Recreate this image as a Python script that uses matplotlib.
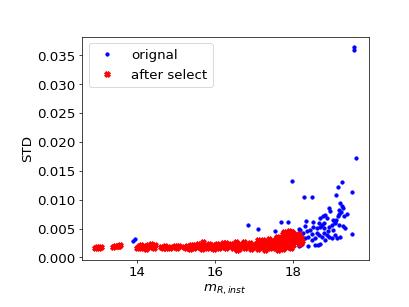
import numpy as np
import matplotlib
matplotlib.use("Agg")
import matplotlib.pyplot as plt

# points kept after the selection (mag, std)
red_m = [12.93, 12.97, 13.03, 13.08, 13.40, 13.45, 13.52, 13.57, 13.55,
         14.00, 14.05, 14.10, 14.14, 14.18, 14.22, 14.27, 14.30, 14.34, 14.37, 14.40, 14.44, 14.47, 14.12, 14.25,
         14.62, 14.68, 14.72, 14.80, 14.86, 14.92, 14.98, 15.03, 15.08, 14.76,
         15.22, 15.26, 15.30, 15.34, 15.38, 15.42, 15.46, 15.50, 15.54, 15.58, 15.62, 15.66, 15.70, 15.73, 15.76,
         15.80, 15.84, 15.88, 15.92, 15.96, 15.99, 15.68, 15.36,
         16.03, 16.07, 16.10, 16.14, 16.18, 16.22, 16.26, 16.30, 16.34, 16.38, 16.42, 16.46, 16.50, 16.54, 16.58,
         16.62, 16.66, 16.70, 16.74, 16.78, 16.82, 16.86, 16.90, 16.94, 16.98, 16.56, 16.30,
         17.02, 17.05, 17.08, 17.11, 17.14, 17.17, 17.20, 17.23, 17.26, 17.29, 17.32, 17.35, 17.38, 17.41, 17.44,
         17.47, 17.49, 17.30, 17.12, 17.40,
         17.52, 17.54, 17.56, 17.58, 17.60, 17.62, 17.64, 17.66, 17.68, 17.70, 17.72, 17.74, 17.76, 17.78, 17.60, 17.70,
         17.80, 17.82, 17.84, 17.86, 17.88, 17.90, 17.92, 17.94, 17.96, 17.98, 18.00, 18.02, 18.04, 17.85, 17.95,
         17.90, 17.82, 17.75, 17.78,
         18.08, 18.10, 18.13, 18.16, 18.18, 18.20, 18.23, 18.12]
red_std = [0.0016, 0.0018, 0.0017, 0.0018, 0.0018, 0.0020, 0.0019, 0.0022, 0.0020,
           0.0017, 0.0019, 0.0016, 0.0018, 0.0020, 0.0017, 0.0019, 0.0022, 0.0018, 0.0024, 0.0020, 0.0017, 0.0021, 0.0021, 0.0015,
           0.0018, 0.0017, 0.0019, 0.0018, 0.0016, 0.0018, 0.0020, 0.0017, 0.0019, 0.0016,
           0.0018, 0.0016, 0.0020, 0.0017, 0.0022, 0.0019, 0.0016, 0.0021, 0.0018, 0.0024, 0.0020, 0.0017, 0.0026, 0.0022, 0.0019,
           0.0016, 0.0023, 0.0020, 0.0017, 0.0021, 0.0015, 0.0015, 0.0015,
           0.0019, 0.0023, 0.0016, 0.0021, 0.0018, 0.0025, 0.0020, 0.0016, 0.0022, 0.0019, 0.0024, 0.0017, 0.0021, 0.0026, 0.0019,
           0.0015, 0.0023, 0.0020, 0.0027, 0.0017, 0.0022, 0.0019, 0.0025, 0.0014, 0.0021, 0.0013, 0.0025,
           0.0018, 0.0024, 0.0020, 0.0015, 0.0027, 0.0022, 0.0018, 0.0030, 0.0024, 0.0014, 0.0020, 0.0027, 0.0032, 0.0017, 0.0023,
           0.0029, 0.0020, 0.0013, 0.0030, 0.0025,
           0.0026, 0.0016, 0.0031, 0.0022, 0.0035, 0.0013, 0.0028, 0.0019, 0.0033, 0.0024, 0.0036, 0.0015, 0.0030, 0.0021, 0.0018, 0.0028,
           0.0039, 0.0027, 0.0043, 0.0018, 0.0034, 0.0046, 0.0024, 0.0038, 0.0030, 0.0044, 0.0021, 0.0035, 0.0041, 0.0031, 0.0016,
           0.0040, 0.0022, 0.0041, 0.0044,
           0.0026, 0.0037, 0.0030, 0.0040, 0.0023, 0.0033, 0.0028, 0.0034]

# points that were rejected by the selection
rej_m = [19.56, 19.56, 19.61, 17.98, 19.25, 19.17, 19.53, 19.10, 18.28, 18.50, 19.22, 19.27, 19.29, 19.18,
         19.24, 19.19, 19.39, 19.15, 19.30, 19.12, 19.09, 18.94, 18.95, 18.53, 18.34, 19.52, 17.69, 17.88,
         17.55, 18.17, 16.85, 17.10, 13.90, 13.95, 18.64,
         18.70, 18.77, 18.83, 18.88, 18.66, 18.75, 18.81, 18.69, 18.62, 18.53, 18.79, 18.92, 19.01, 19.03,
         18.89, 18.45, 18.36, 18.27, 18.19, 18.23, 18.32, 18.40, 18.49, 18.58, 18.66, 18.75, 18.83, 18.70,
         18.58, 18.40, 18.23, 18.15, 19.09, 19.13, 19.22, 19.35, 19.00, 18.94, 18.62, 18.49, 19.09, 19.03,
         18.32, 18.10, 18.06, 18.02, 17.97, 19.29, 19.18, 18.79, 18.88]
rej_std = [0.0365, 0.0360, 0.0173, 0.0133, 0.0130, 0.0122, 0.0114, 0.0108, 0.0104, 0.0104, 0.0095, 0.0089, 0.0085, 0.0082,
           0.0078, 0.0075, 0.0075, 0.0071, 0.0071, 0.0065, 0.0059, 0.0085, 0.0081, 0.0062, 0.0063, 0.0040, 0.0061, 0.0061,
           0.0045, 0.0049, 0.0056, 0.0049, 0.0028, 0.0032, 0.0021,
           0.0068, 0.0072, 0.0074, 0.0068, 0.0059, 0.0056, 0.0059, 0.0053, 0.0051, 0.0053, 0.0051, 0.0053, 0.0056, 0.0048,
           0.0045, 0.0048, 0.0045, 0.0042, 0.0048, 0.0036, 0.0033, 0.0036, 0.0030, 0.0033, 0.0039, 0.0036, 0.0030, 0.0024,
           0.0022, 0.0020, 0.0024, 0.0019, 0.0039, 0.0033, 0.0036, 0.0051, 0.0033, 0.0036, 0.0042, 0.0041, 0.0062, 0.0065,
           0.0055, 0.0030, 0.0039, 0.0027, 0.0045, 0.0054, 0.0056, 0.0042, 0.0039]

orig_m = np.concatenate([red_m, rej_m])
orig_std = np.concatenate([red_std, rej_std])

plt.rcParams["font.size"] = 15
fig = plt.figure(figsize=(6.4, 4.8), dpi=64)
plt.subplots_adjust(left=0.2, bottom=0.153, right=0.9, top=0.88)

plt.plot(orig_m, orig_std, "b.", ms=7.5, label="orignal")
plt.plot(red_m, red_std, "rX", ms=6.5, label="after select")
plt.xlabel(r"$m_{R,inst}$")
plt.ylabel("STD")
plt.legend(loc="upper left")

plt.savefig("out.png", dpi=64)
